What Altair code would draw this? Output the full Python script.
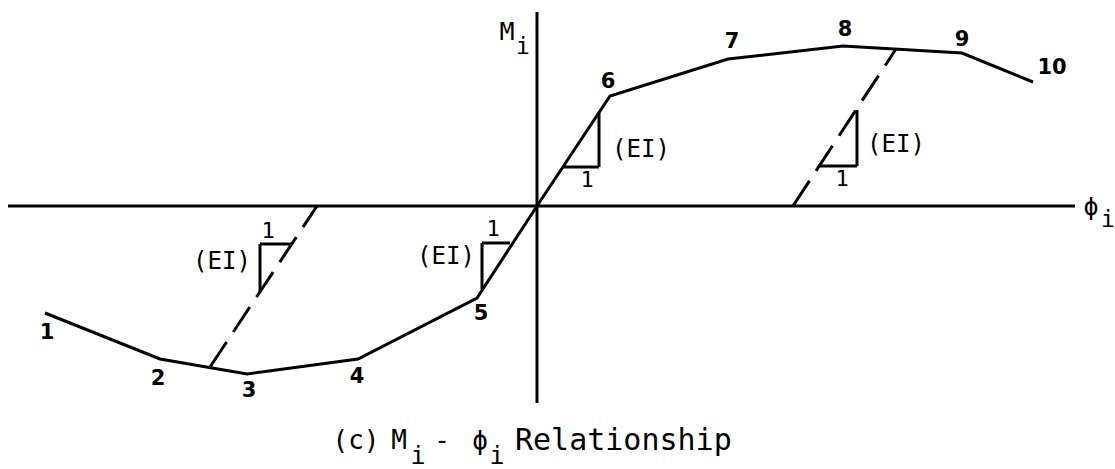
import altair as alt
import pandas as pd

# Moment-curvature backbone (phi_i, M_i), with point numbers
phi = [-49.2, -37.7, -29.0, -17.9, -6.0, 0.0, 7.3, 19.1, 30.6, 42.5, 49.6]
moment = [-10.7, -15.3, -16.8, -15.3, -9.2, 0.0, 11.0, 14.7, 16.0, 15.3, 12.4]

point_names = ["1", "2", "3", "4", "5", "6", "7", "8", "9", "10"]
name_phi = [-49.0, -37.9, -28.8, -18.0, -5.6, 7.1, 19.5, 30.8, 42.5, 51.5]
name_m = [-12.7, -17.3, -18.5, -17.1, -10.8, 12.4, 16.4, 17.6, 16.6, 13.8]

# Elastic unloading branches (dashed)
unload_id = ["left", "left", "right", "right"]
unload_phi = [-32.7, -22.0, 25.6, 35.9]
unload_m = [-16.1, 0.0, 0.0, 15.7]

# Slope triangles: legs as segments (phi, M) -> (phi2, M2)
tri_phi = [2.6, 6.2, 28.1, 32.0, -5.5, -5.5, -27.7, -27.7]
tri_m = [3.9, 3.9, 4.0, 4.0, -3.7, -3.7, -3.8, -3.8]
tri_phi2 = [6.2, 6.2, 32.0, 32.0, -2.7, -5.5, -24.5, -27.7]
tri_m2 = [3.9, 9.3, 4.0, 9.6, -3.7, -8.3, -3.8, -8.6]

# Slope annotations
ei_phi = [10.4, 35.9, -9.1, -31.5]
ei_m = [5.6, 6.1, -5.1, -5.6]
one_phi = [5.0, 30.5, -4.4, -26.9]
one_m = [2.6, 2.7, -2.3, -2.5]

# Axis extents
axis_phi = [-52.9, 0.0]
axis_m = [0.0, 19.4]
axis_phi2 = [53.8, 0.0]
axis_m2 = [0.0, -19.7]

X_DOMAIN = [-53.7, 57.8]
Y_DOMAIN = [-26.3, 20.6]
MONO = "DejaVu Sans Mono"

xs = alt.Scale(domain=X_DOMAIN, nice=False, zero=False)
ys = alt.Scale(domain=Y_DOMAIN, nice=False, zero=False)


def X(f="x"):
    return alt.X(f"{f}:Q", scale=xs, axis=None)


def Y(f="y"):
    return alt.Y(f"{f}:Q", scale=ys, axis=None)


curve_df = pd.DataFrame({"x": phi, "y": moment, "k": list(range(len(phi)))})
names_df = pd.DataFrame({"x": name_phi, "y": name_m, "t": point_names})
unload_df = pd.DataFrame({"x": unload_phi, "y": unload_m, "g": unload_id})
tri_df = pd.DataFrame({"x": tri_phi, "y": tri_m, "x2": tri_phi2, "y2": tri_m2})
ei_df = pd.DataFrame({"x": ei_phi, "y": ei_m, "t": ["(EI)"] * 4})
one_df = pd.DataFrame({"x": one_phi, "y": one_m, "t": ["1"] * 4})
axes_df = pd.DataFrame({"x": axis_phi, "y": axis_m, "x2": axis_phi2, "y2": axis_m2})

axes = alt.Chart(axes_df).mark_rule(color="black", strokeWidth=3).encode(
    x=X(), y=Y(), x2="x2:Q", y2="y2:Q"
)

curve = alt.Chart(curve_df).mark_line(
    color="black", strokeWidth=3, strokeJoin="miter"
).encode(x=X(), y=Y(), order="k:Q")

unload = alt.Chart(unload_df).mark_line(
    color="black", strokeWidth=3, strokeDash=[30, 12]
).encode(x=X(), y=Y(), detail="g:N")

tris = alt.Chart(tri_df).mark_rule(color="black", strokeWidth=3).encode(
    x=X(), y=Y(), x2="x2:Q", y2="y2:Q"
)

names = alt.Chart(names_df).mark_text(
    font="DejaVu Sans", fontWeight="bold", fontSize=21, color="black",
    baseline="middle", align="center"
).encode(x=X(), y=Y(), text="t:N")

ei = alt.Chart(ei_df).mark_text(
    font=MONO, fontSize=24, color="black", baseline="middle", align="center"
).encode(x=X(), y=Y(), text="t:N")

ones = alt.Chart(one_df).mark_text(
    font=MONO, fontSize=22, color="black", baseline="middle", align="center"
).encode(x=X(), y=Y(), text="t:N")

# Axis symbols
axis_lab_df = pd.DataFrame({
    "x": [-3.0, 55.4], "y": [17.4, -0.1], "t": ["M", "ϕ"],
})
axis_sub_df = pd.DataFrame({
    "x": [-1.4, 57.1], "y": [15.9, -1.4], "t": ["i", "i"],
})

# Caption pieces: "(c) M_i - ϕ_i Relationship"
cap_df = pd.DataFrame({
    "x": [-18.1, -13.8, -9.5, -5.7],
    "y": [-23.5, -23.5, -23.5, -23.5],
    "t": ["(c)", "M", "-", "ϕ"],
})
cap_sub_df = pd.DataFrame({
    "x": [-11.9, -4.0], "y": [-25.0, -25.0], "t": ["i", "i"],
})
cap_word_df = pd.DataFrame({"x": [-2.2], "y": [-23.5], "t": ["Relationship"]})

axis_lab = alt.Chart(axis_lab_df).mark_text(
    font=MONO, fontSize=25, color="black", baseline="middle", align="center"
).encode(x=X(), y=Y(), text="t:N")
axis_sub = alt.Chart(axis_sub_df).mark_text(
    font=MONO, fontSize=23, color="black", baseline="middle", align="center"
).encode(x=X(), y=Y(), text="t:N")
cap = alt.Chart(cap_df).mark_text(
    font=MONO, fontSize=26, color="black", baseline="middle", align="center"
).encode(x=X(), y=Y(), text="t:N")
cap_sub = alt.Chart(cap_sub_df).mark_text(
    font=MONO, fontSize=25, color="black", baseline="middle", align="center"
).encode(x=X(), y=Y(), text="t:N")
cap_word = alt.Chart(cap_word_df).mark_text(
    font=MONO, fontSize=30, color="black", baseline="middle", align="left"
).encode(x=X(), y=Y(), text="t:N")

chart = alt.layer(
    axes, curve, unload, tris, names, ei, ones,
    axis_lab, axis_sub, cap, cap_sub, cap_word
).properties(
    width=1115, height=469, padding=0,
    autosize=alt.AutoSizeParams(type="none"),
    background="white",
).configure_view(stroke=None)

chart.save("out.html", embed_options={"renderer": "svg", "actions": False})
